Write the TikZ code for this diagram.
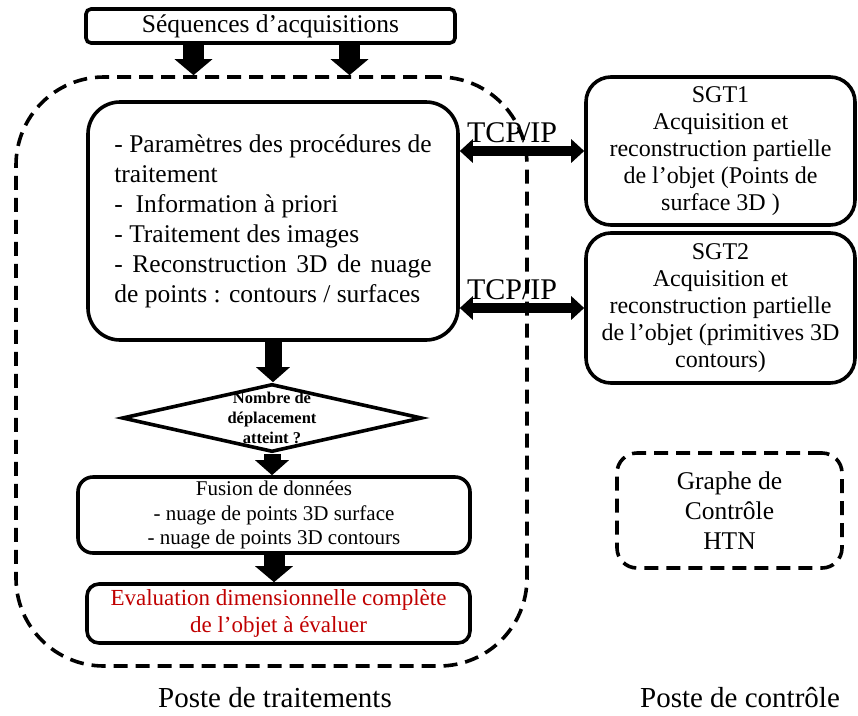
\documentclass[tikz,border=0pt]{standalone}
\usepackage{fontspec}
\usepackage{calc}
\setmainfont{Liberation Serif}
\usetikzlibrary{arrows.meta,positioning,shapes.geometric}
\definecolor{cInk}{HTML}{000000}
\definecolor{cEval}{HTML}{C00000}
\tikzset{
  rbox/.style={draw=cInk, line width=3.6pt, rounded corners=#1, align=center, inner sep=0pt},
  rbox/.default=12pt,
  zone/.style={draw=cInk, line width=3.6pt, dash pattern=on 14pt off 8pt, rounded corners=#1, align=center, inner sep=0pt},
  decision/.style={diamond, draw=cInk, line width=3.6pt, inner sep=0pt, minimum width=300pt, minimum height=68pt},
  bigflow/.style={-{Triangle[length=16pt,width=37pt]}, line width=21pt, draw=cInk},
  flow/.style={-{Triangle[length=15pt,width=33pt]}, line width=17pt, draw=cInk},
  tcp/.style={{Triangle[length=13pt,width=23pt]}-{Triangle[length=13pt,width=23pt]}, line width=10pt, draw=cInk},
  fmain/.style={font=\fontsize{25.5}{30}\selectfont},
  fsgt/.style={font=\fontsize{24}{27}\selectfont},
  ffus/.style={font=\fontsize{21}{24.5}\selectfont},
  feval/.style={font=\fontsize{23}{27}\selectfont, text=cEval},
  ftest/.style={font=\bfseries\fontsize{16.5}{20}\selectfont},
  fpost/.style={font=\fontsize{29}{34}\selectfont},
  ftcp/.style={font=\fontsize{30}{34}\selectfont},
}

\begin{document}
\begin{tikzpicture}[x=1pt, y=-1pt]
\useasboundingbox (0,0) rectangle (858,715);
% poste de traitements
\node[zone=88pt, minimum width=511pt, minimum height=589pt] (zone) at (271.5,371.5) {};
\node[rbox=5pt, fmain, minimum width=369pt, minimum height=34pt] (seq) at (270.5,26) {Séquences d’acquisitions};
\node[rbox=32pt, fmain, minimum width=370pt, minimum height=238pt, align=left] (trait) at (273,221) {- Paramètres des procédures de\\traitement\\-\ \ Information à priori\\- Traitement des images\\\makebox[\widthof{- Paramètres des procédures de}][s]{- Reconstruction 3D de nuage}\\de points : contours / surfaces};
\node[decision] (test) at (272,418) {};
\node[ftest, align=center, inner sep=0pt] (testlbl) at (test.center) {Nombre de\\déplacement\\atteint ?};
\node[rbox=15pt, ffus, minimum width=392pt, minimum height=76pt] (fusion) at (274,515) {Fusion de données\\- nuage de points 3D surface\\- nuage de points 3D contours};
\node[rbox=12pt, feval, minimum width=383pt, minimum height=59pt] (eval) at (278.5,613.5) {Evaluation dimensionnelle complète\\de l’objet à évaluer};
% poste de controle
\node[rbox=25pt, fsgt, minimum width=269pt, minimum height=148pt] (sgt1) at (720.5,151) {SGT1\\Acquisition et\\reconstruction partielle\\de l’objet (Points de\\surface 3D )};
\node[rbox=25pt, fsgt, minimum width=269pt, minimum height=150pt] (sgt2) at (720.5,308) {SGT2\\Acquisition et\\reconstruction partielle\\de l’objet (primitives 3D\\contours)};
\node[zone=20pt, fmain, minimum width=225pt, minimum height=115pt] (htn) at (729.5,510.5) {Graphe de\\Contrôle\\HTN};
\node[fpost, inner sep=0pt] (ptrait) at (275,698) {Poste de traitements};
\node[fpost, inner sep=0pt] (pctrl) at (740,698) {Poste de contrôle};
% liaisons
\foreach \dx in {-77,79}
  \draw[bigflow] ([xshift=\dx pt]seq.south) -- ([xshift=\dx pt]seq.south |- zone.north);
\draw[flow] (trait.south) -- (trait.south |- test.north);
\draw[flow] (test.south) -- (test.south |- fusion.north);
\draw[bigflow] (fusion.south) -- (fusion.south |- eval.north);
\draw[tcp] (trait.east |- sgt1.west) -- node[ftcp, pos=0.42, above=3pt, inner sep=0pt] (tcp1) {TCP/IP} (sgt1.west);
\draw[tcp] (trait.east |- sgt2.west) -- node[ftcp, pos=0.42, above=3pt, inner sep=0pt] (tcp2) {TCP/IP} (sgt2.west);
\end{tikzpicture}
\end{document}
